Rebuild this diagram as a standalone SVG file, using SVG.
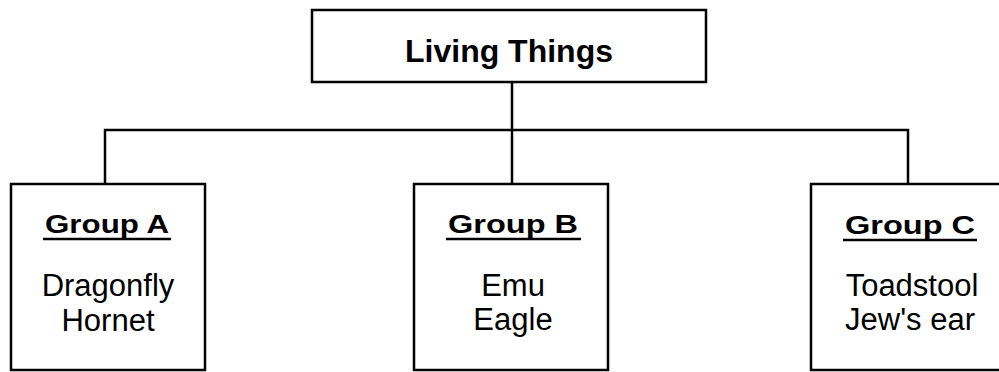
<svg xmlns="http://www.w3.org/2000/svg" width="999" height="372" viewBox="0 0 999 372">
<style>
.box{fill:#fff;stroke:#000;stroke-width:2.5}
.conn{fill:none;stroke:#000;stroke-width:2.5}
.title{font-family:"Liberation Sans",Arial,sans-serif;font-weight:bold;font-size:32px;fill:#000;text-anchor:middle}
.grp{font-family:"Liberation Sans",Arial,sans-serif;font-weight:bold;font-size:26px;fill:#000;text-anchor:middle}
.item{font-family:"Liberation Sans",Arial,sans-serif;font-size:31px;fill:#000;text-anchor:middle}
.ul{stroke:#000;stroke-width:2.5}
</style>
<rect width="999" height="372" fill="#fff"/>
<g id="connectors">
<path class="conn" d="M512 82 V184"/>
<path class="conn" d="M105 184 V130 H908 V184"/>
</g>
<g id="living-things">
<rect class="box" x="312" y="10" width="394" height="72"/>
<text class="title" x="509" y="62">Living Things</text>
</g>
<g id="group-a">
<rect class="box" x="11" y="184" width="194" height="186"/>
<text class="grp" x="107" y="233" textLength="124" lengthAdjust="spacingAndGlyphs">Group A</text>
<line class="ul" x1="43" y1="239" x2="171" y2="239"/>
<text class="item" x="108" y="296">Dragonfly</text>
<text class="item" x="108" y="331">Hornet</text>
</g>
<g id="group-b">
<rect class="box" x="414" y="184" width="194" height="186"/>
<text class="grp" x="513" y="233" textLength="130" lengthAdjust="spacingAndGlyphs">Group B</text>
<line class="ul" x1="446" y1="239" x2="581" y2="239"/>
<text class="item" x="513" y="296">Emu</text>
<text class="item" x="513" y="330">Eagle</text>
</g>
<g id="group-c">
<rect class="box" x="811" y="184" width="200" height="186"/>
<text class="grp" x="910" y="234" textLength="130" lengthAdjust="spacingAndGlyphs">Group C</text>
<line class="ul" x1="843" y1="240" x2="977" y2="240"/>
<text class="item" x="912" y="296">Toadstool</text>
<text class="item" x="910" y="330">Jew's ear</text>
</g>
</svg>
